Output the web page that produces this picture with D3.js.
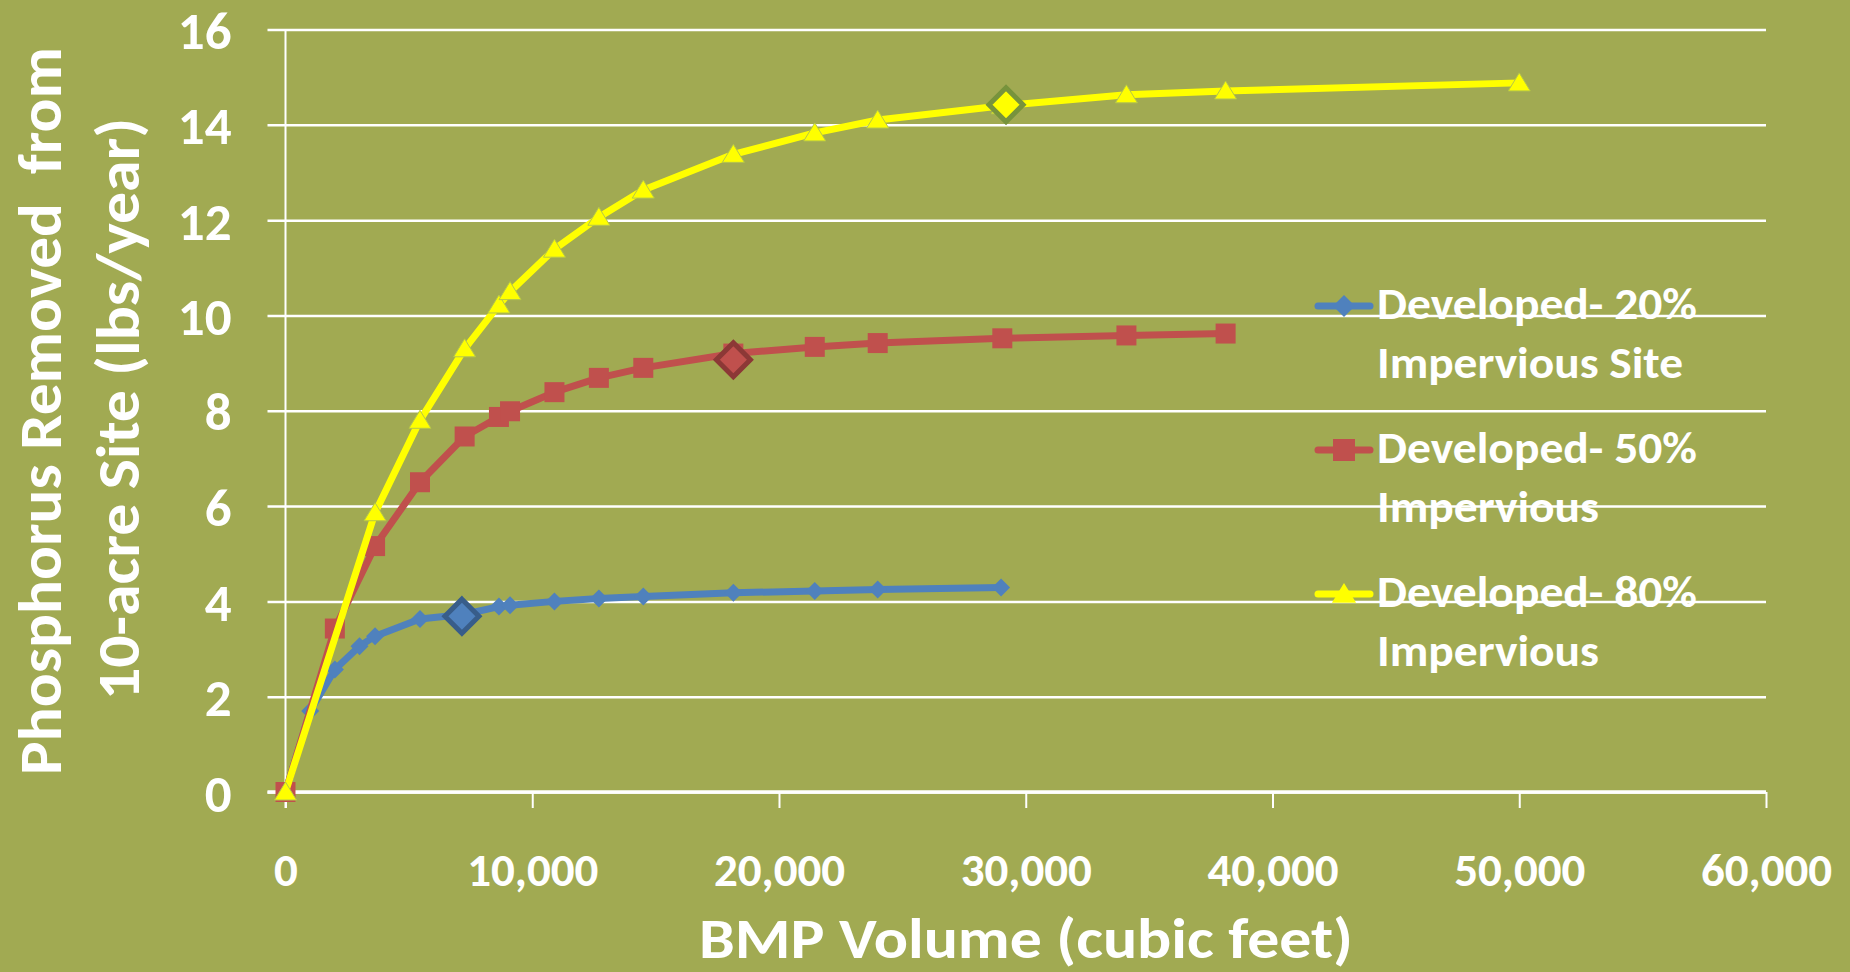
<!DOCTYPE html>
<html>
<head>
<meta charset="utf-8">
<script src="https://cdn.jsdelivr.net/npm/d3@7"></script>
<style>
  html, body { margin: 0; padding: 0; background: #A1AA52; }
  svg { display: block; }
  text { font-family: Calibri, Carlito, Lato, sans-serif; font-weight: bold; fill: #fff; }
</style>
</head>
<body>
<svg id="chart" width="1850" height="972"></svg>
<script>
// BMP volume (cubic feet) vs phosphorus removed (lbs/year)
let dev20 = [
  [0, 0], [1000, 1.70], [2000, 2.57], [3000, 3.06], [3630, 3.27], [5450, 3.63],
  [7260, 3.73], [8650, 3.89], [9100, 3.92], [10900, 4.00], [12700, 4.06],
  [14500, 4.10], [18150, 4.18], [21450, 4.22], [24000, 4.25], [29000, 4.29]
];
let dev50 = [
  [0, 0], [2000, 3.43], [3630, 5.16], [5450, 6.50], [7260, 7.46], [8650, 7.87],
  [9100, 7.99], [10900, 8.39], [12700, 8.69], [14500, 8.90], [18150, 9.20],
  [21450, 9.34], [24000, 9.42], [29050, 9.52], [34080, 9.58], [38100, 9.62]
];
let dev80 = [
  [0, 0], [3630, 5.86], [5450, 7.80], [7260, 9.30], [8650, 10.22], [9100, 10.50],
  [10900, 11.39], [12700, 12.06], [14500, 12.63], [18150, 13.38], [21450, 13.83],
  [24000, 14.10], [29050, 14.40], [34080, 14.63], [38100, 14.71], [50000, 14.88]
];
// highlighted design points
let highlights = [[7150, 3.69], [18150, 9.07], [29200, 14.42]];

let seriesNames = [
  ["Developed- 20%", "Impervious Site"],
  ["Developed- 50%", "Impervious"],
  ["Developed- 80%", "Impervious"]
];
let xTicks = [0, 10000, 20000, 30000, 40000, 50000, 60000];
let yTicks = [0, 2, 4, 6, 8, 10, 12, 14, 16];

let colors = ["#4F81BD", "#C0504D", "#FFFF00"];
let hiStroke = ["#385D8A", "#8C3836", "#77933C"];
let markers = ["diamond", "square", "triangle"];

let svg = d3.select("#chart");

let x = d3.scaleLinear().domain([0, 60000]).range([285.5, 1766]);
let y = d3.scaleLinear().domain([0, 16]).range([792, 29.5]);

let plotW = x(60000) - x(0);

// gridlines + y tick labels
let yAxis = svg.append("g")
  .attr("transform", `translate(${x(0)},0)`)
  .call(d3.axisLeft(y).tickValues(yTicks).tickSize(-plotW).tickPadding(54));

yAxis.select(".domain").remove();
yAxis.selectAll("line")
  .attr("x1", -18)
  .attr("stroke", "#fff")
  .attr("stroke-width", 2.5);
yAxis.selectAll("text")
  .attr("font-size", 53)
  .attr("fill", "#fff")
  .attr("dy", "0.36em");

// x axis
let xAxis = svg.append("g")
  .attr("transform", `translate(0,${y(0)})`)
  .call(d3.axisBottom(x).tickValues(xTicks).tickSize(16).tickFormat(d3.format(",")));

xAxis.select(".domain").remove();
xAxis.selectAll("line").attr("stroke", "#fff").attr("stroke-width", 2);
xAxis.selectAll("text")
  .attr("font-size", 47)
  .attr("fill", "#fff")
  .attr("y", 94)
  .attr("dy", null);

// axis lines
svg.append("line")
  .attr("x1", x(0)).attr("x2", x(0))
  .attr("y1", y(16)).attr("y2", y(0) + 16)
  .attr("stroke", "#fff").attr("stroke-width", 2);
svg.append("line")
  .attr("x1", x(0) - 18).attr("x2", x(60000))
  .attr("y1", y(0)).attr("y2", y(0))
  .attr("stroke", "#fff").attr("stroke-width", 3.5);

function markerPath(type, cx, cy, s) {
  if (type == "diamond") {
    return `M${cx},${cy - s}L${cx + s},${cy}L${cx},${cy + s}L${cx - s},${cy}Z`;
  } else if (type == "square") {
    return `M${cx - s},${cy - s}h${2 * s}v${2 * s}h${-2 * s}Z`;
  }
  return `M${cx},${cy - s}L${cx + s * 1.1},${cy + s * 0.8}L${cx - s * 1.1},${cy + s * 0.8}Z`;
}
let markerSize = [9, 10, 10];

let line = d3.line()
  .x(d => x(d[0]))
  .y(d => y(d[1]));

let allSeries = [dev20, dev50, dev80];

allSeries.forEach(function(data, i) {
  let g = svg.append("g");
  g.append("path")
    .datum(data)
    .attr("d", line)
    .attr("fill", "none")
    .attr("stroke", colors[i])
    .attr("stroke-width", 7)
    .attr("stroke-linejoin", "round");

  g.selectAll("path.mk")
    .data(data)
    .join("path")
    .attr("class", "mk")
    .attr("d", d => markerPath(markers[i], x(d[0]), y(d[1]), markerSize[i]))
    .attr("fill", colors[i])
    .attr("stroke", i == 2 ? "#B5C64A" : "none")
    .attr("stroke-width", 1);

  // highlighted point
  let h = highlights[i];
  g.append("path")
    .attr("d", markerPath("diamond", x(h[0]), y(h[1]), 17))
    .attr("fill", colors[i])
    .attr("stroke", hiStroke[i])
    .attr("stroke-width", 5)
    .attr("stroke-linejoin", "miter");
});

// legend
let legendWidths = [[320, 306], [320, 222], [320, 222]];
let legend = svg.append("g");
seriesNames.forEach(function(name, i) {
  let by = 319 + i * 144;
  let my = by - 13;
  legend.append("line")
    .attr("x1", 1318).attr("x2", 1370)
    .attr("y1", my).attr("y2", my)
    .attr("stroke", colors[i])
    .attr("stroke-width", 7)
    .attr("stroke-linecap", "round");
  legend.append("path")
    .attr("d", markerPath(markers[i], 1344, my, 11))
    .attr("fill", colors[i]);
  legend.append("text")
    .attr("x", 1377).attr("y", by)
    .attr("font-size", 44)
    .attr("textLength", legendWidths[i][0])
    .attr("lengthAdjust", "spacingAndGlyphs")
    .text(name[0]);
  legend.append("text")
    .attr("x", 1377).attr("y", by + 59)
    .attr("font-size", 44)
    .attr("textLength", legendWidths[i][1])
    .attr("lengthAdjust", "spacingAndGlyphs")
    .text(name[1]);
});

// axis titles
svg.append("text")
  .attr("x", 1026).attr("y", 958)
  .attr("text-anchor", "middle")
  .attr("font-size", 56)
  .attr("textLength", 654)
  .attr("lengthAdjust", "spacingAndGlyphs")
  .text("BMP Volume (cubic feet)");

svg.append("text")
  .attr("transform", "translate(61,411) rotate(-90)")
  .attr("text-anchor", "middle")
  .attr("font-size", 60)
  .attr("textLength", 728)
  .attr("lengthAdjust", "spacingAndGlyphs")
  .attr("xml:space", "preserve")
  .text("Phosphorus Removed  from");

svg.append("text")
  .attr("transform", "translate(139,409) rotate(-90)")
  .attr("text-anchor", "middle")
  .attr("font-size", 60)
  .attr("textLength", 582)
  .attr("lengthAdjust", "spacingAndGlyphs")
  .text("10-acre Site (lbs/year)");
</script>
</body>
</html>
